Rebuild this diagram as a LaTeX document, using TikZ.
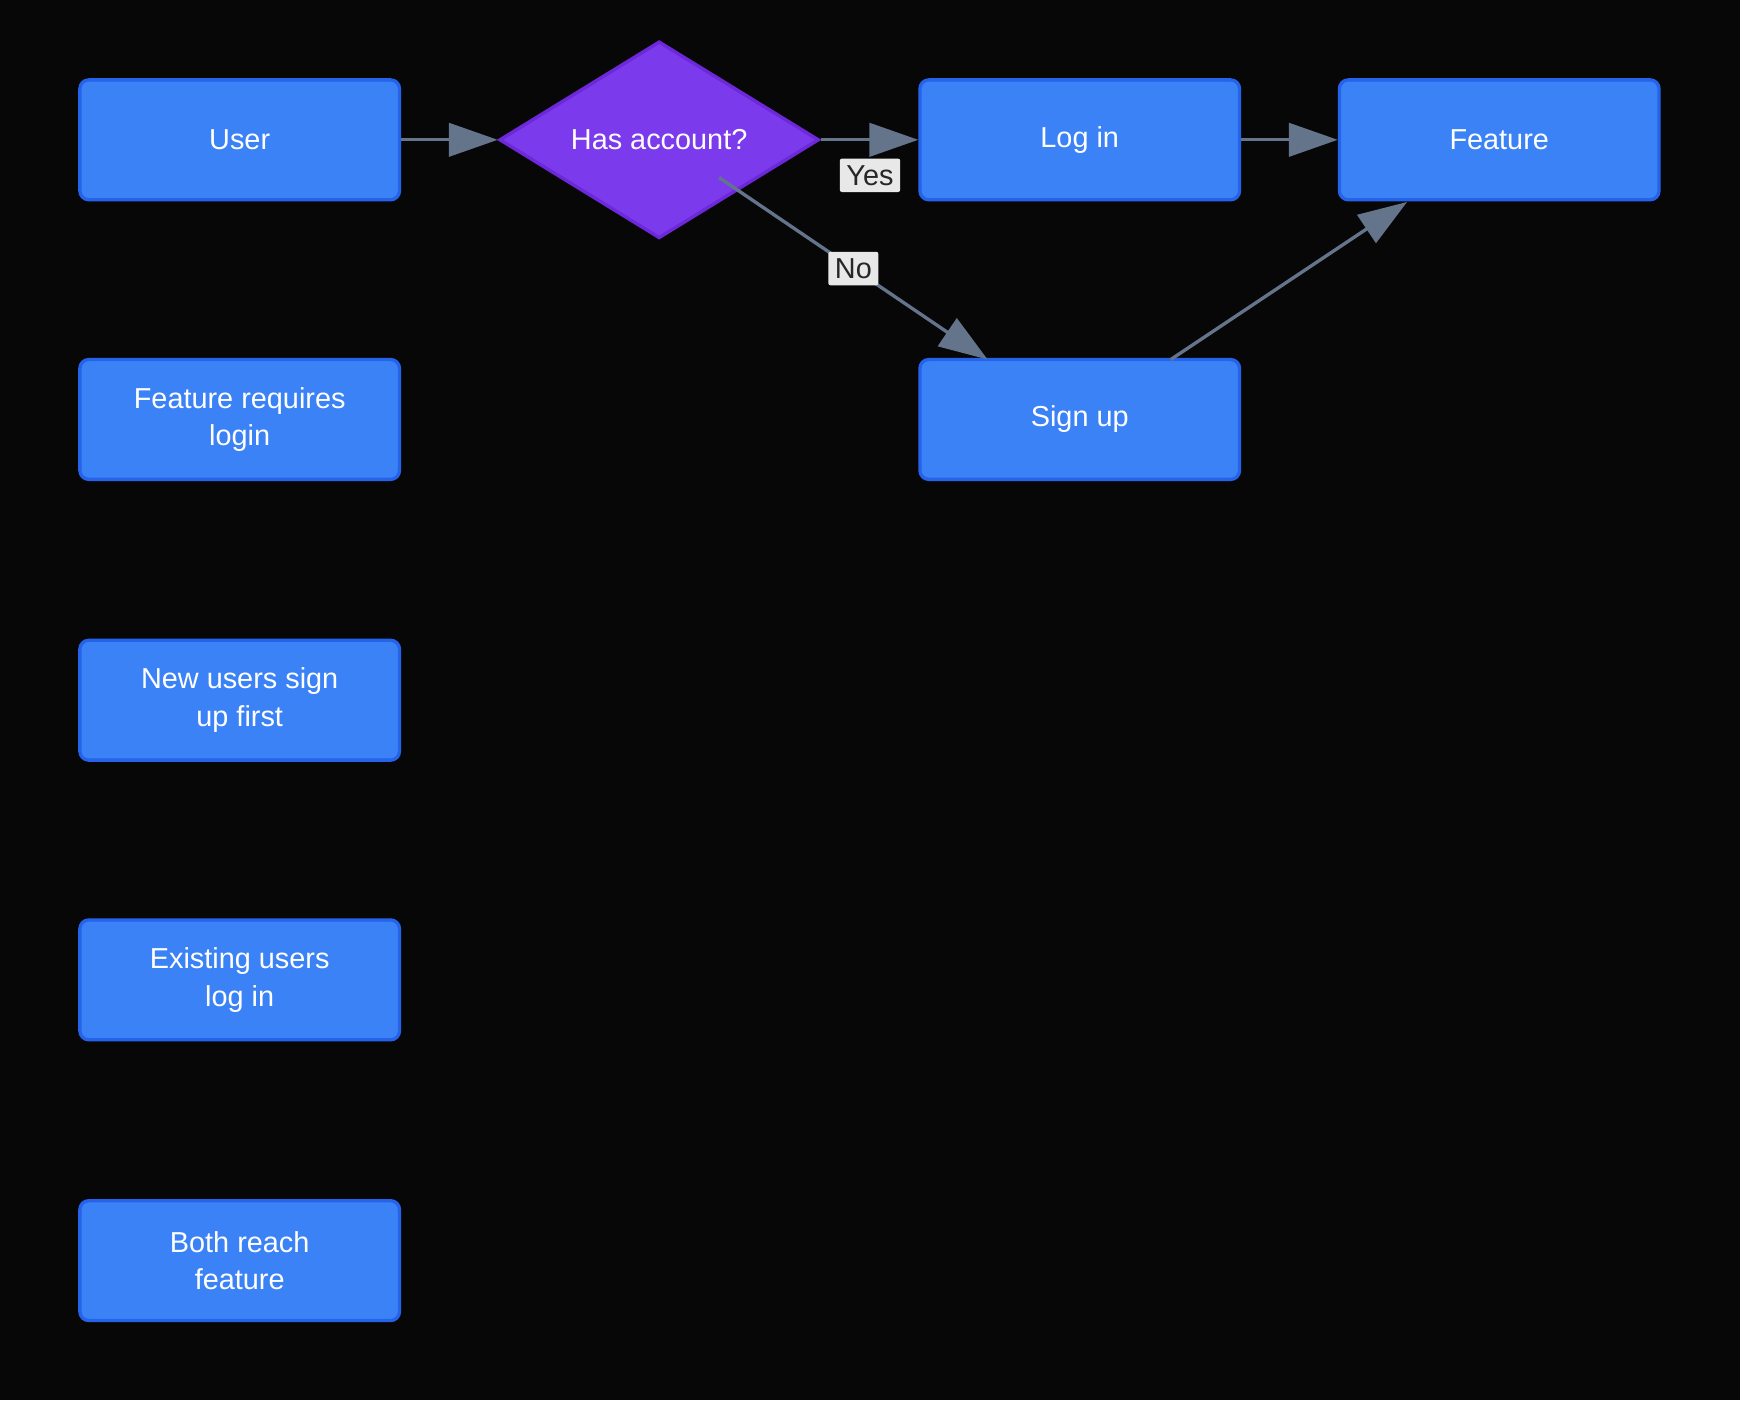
\documentclass[tikz,border=0pt]{standalone}
\usepackage{fontspec}
\setmainfont{Liberation Sans}
\usetikzlibrary{shapes.geometric,arrows.meta}
\definecolor{bg}{HTML}{070708}
\definecolor{boxf}{HTML}{3B82F6}
\definecolor{boxd}{HTML}{2563EB}
\definecolor{dif}{HTML}{7C3AED}
\definecolor{did}{HTML}{6D28D9}
\definecolor{edge}{HTML}{64748B}
\definecolor{lblbg}{HTML}{E8E8E8}
\tikzset{
 box/.style={draw=boxd,fill=boxf,line width=1.5pt,rounded corners=4pt,minimum width=144pt,minimum height=54pt,text=white,align=center,font=\fontsize{13}{17}\selectfont,inner sep=0pt},
 dec/.style={diamond,draw=did,fill=dif,line width=1.5pt,minimum width=144pt,minimum height=54pt,inner sep=0pt,text=white,font=\fontsize{13}{17}\selectfont},
 arr/.style={draw=edge,line width=1.5pt,-{Triangle[length=22pt,width=15pt]}},
 lbl/.style={fill=lblbg,text=black!85,rounded corners=1pt,font=\fontsize{13}{15}\selectfont,inner sep=3pt}
}
\begin{document}
\begin{tikzpicture}[x=0.5pt,y=-0.5pt]
\fill[bg] (0,0) rectangle (1568,1262);
\useasboundingbox (0,0) rectangle (1568,1262);
\node[box] (user) at (216,126) {User};
\node[dec] (has) at (594,126) {Has account?};
\node[box] (login) at (973,126) {Log in};
\node[box] (feat) at (1351,126) {Feature};
\node[box] (signup) at (973,378) {Sign up};
\node[box] (n1) at (216,378) {Feature requires\\login};
\node[box] (n2) at (216,631) {New users sign\\up first};
\node[box] (n3) at (216,883) {Existing users\\log in};
\node[box] (n4) at (216,1136) {Both reach\\feature};
\coordinate (hs) at (648,160);
\coordinate (se) at (890,324);
\coordinate (ss) at (1055,324);
\coordinate (fe) at (1268,182);
\draw[arr] (user.east) -- (has.west);
\draw[arr] (has.east) -- (login.west);
\node[lbl] (yes) at (784,158) {Yes};
\draw[arr] (hs) -- (se);
\node[lbl] (no) at (769,242) {No};
\draw[arr] (login.east) -- (feat.west);
\draw[arr] (ss) -- (fe);
\end{tikzpicture}
\end{document}
